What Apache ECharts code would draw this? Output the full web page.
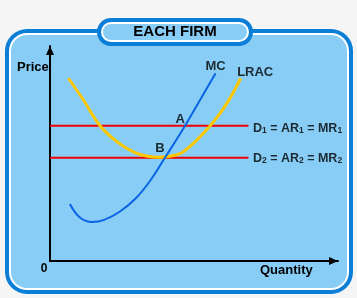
<!DOCTYPE html>
<html>
<head>
<meta charset="utf-8">
<script src="https://cdn.jsdelivr.net/npm/echarts@6/dist/echarts.min.js"></script>
<style>
html,body{margin:0;padding:0;background:#f5f5f5;}
#c{width:357px;height:298px;}
</style>
</head>
<body>
<div id="c"></div>
<script>
// ---- data ----
const lracX = [0.64, 1.16, 1.74, 2.32, 2.89, 3.40, 3.75, 4.10, 4.63, 5.56, 6.14, 6.62];
const lracY = [8.50, 7.49, 6.29, 5.55, 5.08, 4.87, 4.82, 4.86, 5.08, 6.29, 7.33, 8.50];
const mcX = [0.69, 1.04, 1.46, 1.88, 2.43, 2.99, 3.47, 3.99, 4.69, 5.21, 5.75];
const mcY = [2.65, 2.02, 1.81, 1.91, 2.30, 2.93, 3.72, 4.80, 6.29, 7.49, 8.73];
const demandX = [0, 6.89];
const d1Price = 6.29;
const d2Price = 4.80;
const pointA = [4.69, 6.29];
const pointB = [3.99, 4.80];
const curveNames = ['MC', 'LRAC'];
const pointNames = ['A', 'B'];
const axisNames = ['Price', 'Quantity', '0'];
const titleText = 'EACH FIRM';

const FONT = '"Liberation Sans", Arial, sans-serif';
const FILL = '#88cdf6';
const BLUE = '#0b7fd8';

const zip = (xs, ys) => xs.map((x, i) => [x, ys[i]]);

const chart = echarts.init(document.getElementById('c'), null, {renderer: 'canvas'});

const dRich = {
  m: {fontFamily: FONT, fontWeight: 'bold', fontSize: 12.5, color: '#000', lineHeight: 14},
  s: {fontFamily: FONT, fontWeight: 'bold', fontSize: 8.5, color: '#000', lineHeight: 9, verticalAlign: 'bottom'}
};

const labelBase = {show: true, color: '#000', fontFamily: FONT, fontWeight: 'bold', fontSize: 13};

chart.setOption({
  backgroundColor: '#f5f5f5',
  animation: false,
  grid: {left: 50, right: 19, top: 46, bottom: 37},
  xAxis: {
    type: 'value', min: 0, max: 10,
    axisLine: {show: true, lineStyle: {color: '#000', width: 2}, symbol: ['none', 'triangle'], symbolSize: [8, 9], symbolOffset: [0, -4.5]},
    axisTick: {show: false}, axisLabel: {show: false}, splitLine: {show: false}
  },
  yAxis: {
    type: 'value', min: 0, max: 10,
    axisLine: {show: true, lineStyle: {color: '#000', width: 2}, symbol: ['none', 'triangle'], symbolSize: [8, 9], symbolOffset: [0, -4.5]},
    axisTick: {show: false}, axisLabel: {show: false}, splitLine: {show: false}
  },
  graphic: [
    {type: 'rect', z: -5, silent: true, shape: {x: 5, y: 29, width: 348, height: 265, r: 22}, style: {fill: BLUE}},
    {type: 'rect', z: -5, silent: true, shape: {x: 9, y: 33, width: 340, height: 257, r: 18}, style: {fill: '#ffffff'}},
    {type: 'rect', z: -5, silent: true, shape: {x: 11, y: 35, width: 336, height: 253, r: 16}, style: {fill: FILL}},
    {type: 'rect', z: -4, silent: true, shape: {x: 97, y: 18, width: 156, height: 28, r: 14}, style: {fill: BLUE}},
    {type: 'rect', z: -4, silent: true, shape: {x: 101, y: 22, width: 148, height: 20, r: 10}, style: {fill: '#ffffff'}},
    {type: 'rect', z: -4, silent: true, shape: {x: 103, y: 24, width: 144, height: 16, r: 8}, style: {fill: FILL}},
    {type: 'text', z: 10, silent: true, x: 175, y: 32, style: {text: titleText, fill: '#000', font: 'bold 15px ' + FONT, align: 'center', verticalAlign: 'middle'}},
    {type: 'text', z: 10, silent: true, x: 17, y: 67, style: {text: axisNames[0], fill: '#000', font: 'bold 13px ' + FONT, align: 'left', verticalAlign: 'middle'}},
    {type: 'text', z: 10, silent: true, x: 260, y: 270.5, style: {text: axisNames[1], fill: '#000', font: 'bold 13px ' + FONT, align: 'left', verticalAlign: 'middle'}},
    {type: 'text', z: 10, silent: true, x: 44, y: 268.5, style: {text: axisNames[2], fill: '#000', font: 'bold 12px ' + FONT, align: 'center', verticalAlign: 'middle'}}
  ],
  series: [
    {
      type: 'line', name: 'D1', z: 2, showSymbol: false, silent: true,
      data: demandX.map(x => [x, d1Price]),
      lineStyle: {color: '#f00000', width: 2}
    },
    {
      type: 'line', name: 'D2', z: 2, showSymbol: false, silent: true,
      data: demandX.map(x => [x, d2Price]),
      lineStyle: {color: '#f00000', width: 2}
    },
    {
      type: 'line', name: 'LRAC', z: 3, showSymbol: false, silent: true, smooth: 0.4,
      data: zip(lracX, lracY),
      lineStyle: {color: '#fcc800', width: 3}
    },
    {
      type: 'line', name: 'MC', z: 4, showSymbol: false, silent: true, smooth: 0.4,
      data: zip(mcX, mcY),
      lineStyle: {color: '#0a64e6', width: 2}
    },
    {
      type: 'scatter', name: 'labels', z: 6, silent: true, symbolSize: 1,
      itemStyle: {color: 'rgba(0,0,0,0)'},
      data: [
        {value: [mcX[mcX.length - 1], mcY[mcY.length - 1]], label: Object.assign({}, labelBase, {position: 'top', distance: 0, formatter: curveNames[0]})},
        {value: [lracX[lracX.length - 1], lracY[lracY.length - 1]], label: Object.assign({}, labelBase, {position: 'right', distance: 0, offset: [-4, -6], formatter: curveNames[1]})},
        {value: pointA, label: Object.assign({}, labelBase, {position: 'inside', offset: [-5, -6.5], formatter: pointNames[0]})},
        {value: pointB, label: Object.assign({}, labelBase, {position: 'inside', offset: [-5, -9.5], formatter: pointNames[1]})},
        {value: [demandX[1], d1Price], label: {show: true, position: 'right', distance: 4, offset: [0, 2.5], formatter: '{m|D}{s|1}{m| = AR}{s|1}{m| = MR}{s|1}', rich: dRich}},
        {value: [demandX[1], d2Price], label: {show: true, position: 'right', distance: 4, offset: [0, 0.5], formatter: '{m|D}{s|2}{m| = AR}{s|2}{m| = MR}{s|2}', rich: dRich}}
      ]
    }
  ]
});
</script>
</body>
</html>
